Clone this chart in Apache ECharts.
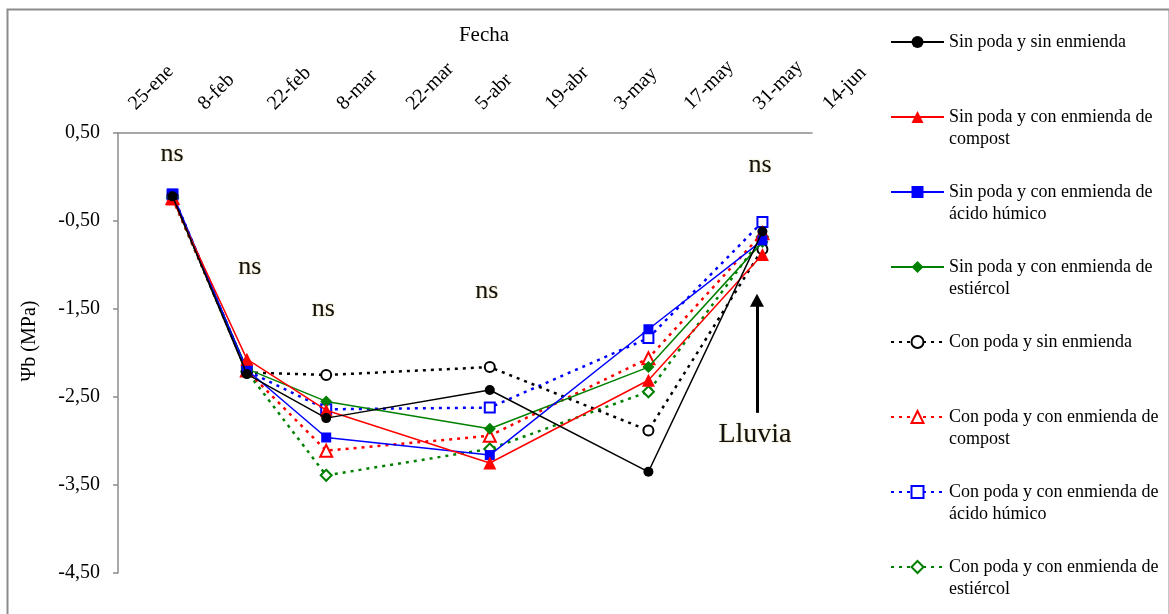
<!DOCTYPE html>
<html>
<head>
<meta charset="utf-8">
<script src="https://cdn.jsdelivr.net/npm/echarts@6/dist/echarts.min.js"></script>
<style>
html,body{margin:0;padding:0;background:#fff;}
#chart{width:1169px;height:614px;}
</style>
</head>
<body>
<div id="chart"></div>
<script>
// ---- Data ----
const axisStart = '2011-01-25';
const tickLabels = ['25-ene','8-feb','22-feb','8-mar','22-mar','5-abr','19-abr','3-may','17-may','31-may','14-jun'];
const sampleDates = ['2011-02-05','2011-02-20','2011-03-08','2011-04-10','2011-05-12','2011-06-04'];

const seriesNames = [
  'Sin poda y sin enmienda',
  'Sin poda y con enmienda de compost',
  'Sin poda y con enmienda de ácido húmico',
  'Sin poda y con enmienda de estiércol',
  'Con poda y sin enmienda',
  'Con poda y con enmienda de compost',
  'Con poda y con enmienda de ácido húmico',
  'Con poda y con enmienda de estiércol'
];
const legendText = [
  'Sin poda y sin enmienda',
  'Sin poda y con enmienda de\ncompost',
  'Sin poda y con enmienda de\nácido húmico',
  'Sin poda y con enmienda de\nestiércol',
  'Con poda y sin enmienda',
  'Con poda y con enmienda de\ncompost',
  'Con poda y con enmienda de\nácido húmico',
  'Con poda y con enmienda de\nestiércol'
];

const sinPodaSinEnmienda   = [-0.22, -2.24, -2.74, -2.42, -3.35, -0.62];
const sinPodaCompost       = [-0.25, -2.07, -2.65, -3.25, -2.31, -0.88];
const sinPodaHumico        = [-0.19, -2.19, -2.96, -3.16, -1.73, -0.72];
const sinPodaEstiercol     = [-0.23, -2.18, -2.55, -2.86, -2.16, -0.74];
const conPodaSinEnmienda   = [-0.21, -2.22, -2.25, -2.16, -2.88, -0.82];
const conPodaCompost       = [-0.24, -2.20, -3.11, -2.94, -2.06, -0.64];
const conPodaHumico        = [-0.20, -2.20, -2.64, -2.62, -1.83, -0.51];
const conPodaEstiercol     = [-0.24, -2.21, -3.39, -3.09, -2.44, -0.68];

const yTicks = [0.5, -0.5, -1.5, -2.5, -3.5, -4.5];
const allValues = [sinPodaSinEnmienda, sinPodaCompost, sinPodaHumico, sinPodaEstiercol,
                   conPodaSinEnmienda, conPodaCompost, conPodaHumico, conPodaEstiercol];

// ---- Helpers ----
const DAY = 86400000;
const t0 = Date.parse(axisStart + 'T00:00:00Z');
const dayOf = s => Math.round((Date.parse(s + 'T00:00:00Z') - t0) / DAY);
const xDays = sampleDates.map(dayOf);
const tickStep = 14;

const FONT = 'Liberation Serif';
const styles = [
  {color:'#000000', symbol:'circle',        size:10, dash:'solid'},
  {color:'#ff0000', symbol:'triangle',      size:13, dash:'solid'},
  {color:'#0000ff', symbol:'rect',          size:10, dash:'solid'},
  {color:'#008000', symbol:'diamond',       size:12, dash:'solid'},
  {color:'#000000', symbol:'emptyCircle',   size:10, dash:[3,5]},
  {color:'#ff0000', symbol:'emptyTriangle', size:12, dash:[3,5]},
  {color:'#0000ff', symbol:'emptyRect',     size:10, dash:[3,5]},
  {color:'#008000', symbol:'emptyDiamond',  size:11, dash:[3,5]}
];

const nsLabelStyle = {
  show:true, formatter:'ns', fontFamily:FONT, fontSize:26, color:'#111',
  position:'inside', textShadowColor:'rgba(190,160,0,0.45)', textShadowBlur:2
};

const series = seriesNames.map((name, i) => {
  const st = styles[i];
  const s = {
    name: name,
    type: 'line',
    data: allValues[i].map((v, k) => [xDays[k], v]),
    symbol: st.symbol,
    symbolSize: st.size,
    showAllSymbol: true,
    color: st.color,
    itemStyle: {color: st.color, borderColor: st.color, borderWidth: st.dash === 'solid' ? 0 : 1.5},
    lineStyle: {color: st.color, width: st.dash === 'solid' ? 1.5 : 2.5, type: st.dash},
    z: 10 - i,
    animation: false
  };
  if (i === 0) {
    s.markPoint = {
      silent: true,
      symbol: 'rect', symbolSize: 1,
      itemStyle: {color: 'rgba(0,0,0,0)'},
      label: nsLabelStyle,
      data: [
        {coord:[10.9, 0.26]},
        {coord:[26.6, -1.03]},
        {coord:[41.4, -1.50]},
        {coord:[74.4, -1.30]},
        {coord:[129.5, 0.13]},
        {coord:[128.5, -2.93], label:{show:true, formatter:'Lluvia', fontFamily:FONT, fontSize:28, color:'#111', position:'inside', textShadowColor:'rgba(190,160,0,0.45)', textShadowBlur:2}}
      ]
    };
    s.markLine = {
      silent: true,
      symbol: ['none', 'triangle'],
      symbolSize: [14, 13],
      label: {show:false},
      lineStyle: {color:'#000', width:3, type:'solid'},
      data: [[{coord:[128.9, -2.68]}, {coord:[128.9, -1.40]}]]
    };
  }
  return s;
});

const chart = echarts.init(document.getElementById('chart'), null, {renderer:'canvas'});
chart.setOption({
  backgroundColor: '#ffffff',
  animation: false,
  textStyle: {fontFamily: FONT},
  grid: {left:118, top:133, right:357, bottom:41, containLabel:false},
  xAxis: {
    type: 'value',
    position: 'top',
    min: 0, max: (tickLabels.length - 1) * tickStep, interval: tickStep,
    axisLine: {show:true, onZero:false, lineStyle:{color:'#8c8c8c', width:1.5}},
    axisTick: {show:false},
    splitLine: {show:false},
    axisLabel: {
      rotate: -45, margin: 12, padding:[0,0,0,20],
      fontFamily: FONT, fontSize: 20, color: '#000',
      showMinLabel: true, showMaxLabel: true,
      formatter: v => tickLabels[Math.round(v / tickStep)]
    }
  },
  yAxis: {
    type: 'value',
    min: yTicks[yTicks.length - 1], max: yTicks[0], interval: 1,
    axisLine: {show:true, onZero:false, lineStyle:{color:'#8c8c8c', width:1.5}},
    axisTick: {show:true, length:5, lineStyle:{color:'#8c8c8c', width:1.5}},
    splitLine: {show:false},
    axisLabel: {
      margin: 18, fontFamily: FONT, fontSize: 20, color: '#000',
      formatter: v => v.toFixed(2).replace('.', ',')
    }
  },
  legend: {
    orient: 'vertical',
    left: 890, top: 9,
    padding: 0,
    itemGap: 9,
    itemWidth: 53, itemHeight: 15,
    data: seriesNames,
    formatter: name => {
      const t = legendText[seriesNames.indexOf(name)];
      return t.indexOf('\n') >= 0 ? ' \n' + t : ' \n' + t + '\n ';
    },
    textStyle: {fontFamily: FONT, fontSize: 18, color: '#000', lineHeight: 22},
    selectedMode: false
  },
  graphic: [
    {type:'rect', left:5, top:7, shape:{width:1162, height:640}, style:{fill:'none', stroke:'#8c8c8c', lineWidth:2}, silent:true, z:-1},
    {type:'text', x:484, y:35, style:{text:'Fecha', fontFamily:FONT, fontSize:21, fill:'#000', align:'center', verticalAlign:'middle'}},
    {type:'text', x:30, y:341, rotation:Math.PI/2, style:{text:'Ψb (MPa)', fontFamily:FONT, fontSize:20, fill:'#000', align:'center', verticalAlign:'middle'}}
  ],
  series: series
});
</script>
</body>
</html>
